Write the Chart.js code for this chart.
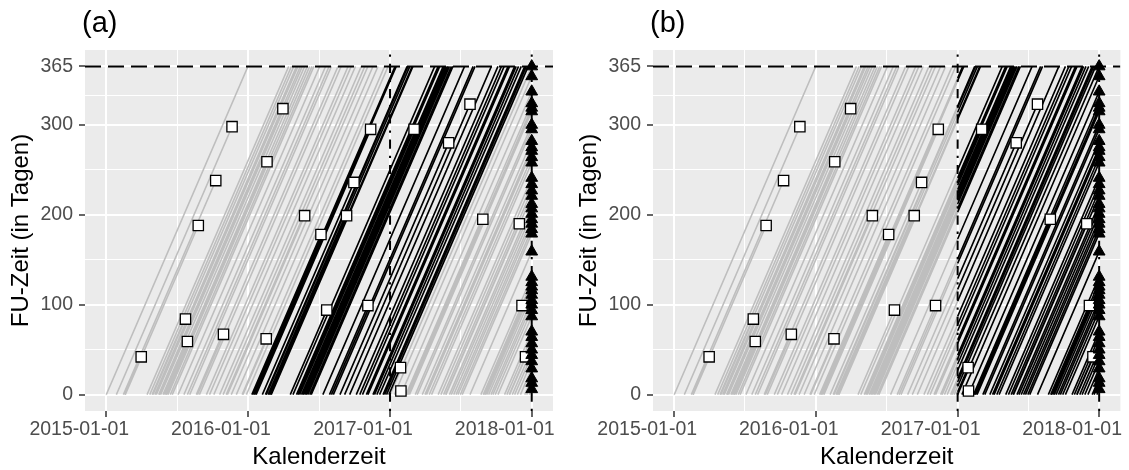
<!DOCTYPE html>
<html lang="de">
<head>
<meta charset="UTF-8">
<title>Kohorten- und Periodenansatz</title>
<style>
  body { margin: 0; background: #fff; }
  .wrap { position: relative; width: 1129px; height: 470px; overflow: hidden; }
  .wrap canvas { position: absolute; top: 0; }
  #chartA { left: 0; }
  #chartB { left: 568px; }
</style>
<script src="https://cdn.jsdelivr.net/npm/chart.js"></script>
</head>
<body>
<div class="wrap">
  <canvas id="chartA" width="567" height="470"></canvas>
  <canvas id="chartB" width="561" height="470"></canvas>
</div>
<script>
// Achsen
const xTickDates = ['2015-01-01', '2016-01-01', '2017-01-01', '2018-01-01'];
const yTicks = [0, 100, 200, 300, 365];

// Eintritt jeweils in Tagen seit 2015-01-01
// volle 365 Tage beobachtet (kein Symbol)
const fullEntry = [0, 105, 112, 118, 125, 129, 135, 140, 146, 153, 159, 165, 170, 185,
  200, 209, 215, 232, 240, 258, 266, 277, 292, 301, 309, 322, 335, 352, 361,
  379, 382, 410, 412, 417, 423, 425, 481, 490, 494, 503, 507, 511, 515, 519, 524, 528, 558,
  580, 585, 627, 644, 653, 660, 670, 674, 687, 691, 697, 704, 713, 717, 722];

// Ereignis (Quadrat)
const eventEntry = [26, 44, 48, 49, 120, 137, 150, 155, 235, 312, 350,
  375, 386, 402, 420, 474, 498, 575, 602, 614, 728,
  755, 775, 874, 972, 1038];
const eventFU = [298, 238, 42, 188, 84, 318, 59, 259, 67, 199, 62,
  178, 295, 236, 199, 94, 295, 99, 280, 323, 30,
  4, 195, 190, 99, 42];

// zensiert am Studienende (Dreieck)
const censEntry = [731, 742, 759, 772, 777, 781, 796, 801, 814, 821, 825, 832, 838, 855, 862, 869,
  875, 884, 889, 895, 901, 906, 912, 917, 937, 965, 971, 976, 980, 985, 991, 996, 1002, 1009,
  1026, 1032, 1039, 1046, 1052, 1059, 1067, 1078, 1083, 1090];
const censFU = [365, 354, 337, 324, 319, 315, 300, 295, 282, 275, 271, 264, 258, 241, 234, 227,
  221, 212, 207, 201, 195, 190, 184, 179, 159, 131, 125, 120, 116, 111, 105, 100, 94, 87,
  70, 64, 57, 50, 44, 37, 29, 18, 13, 6];

const fuMax = 365;
const cohortFrom = '2016-01-01';
const cohortTo = '2016-12-31';
const periodFrom = '2017-01-01';
const studyEnd = '2018-01-01';

const origin = Date.UTC(2015, 0, 1);
function day(s) {
    const [y, m, d] = s.split('-').map(Number);
    return Math.round((Date.UTC(y, m - 1, d) - origin) / 864e5);
}

const subjects = [];
fullEntry.forEach(s => subjects.push({ s, fu: fuMax }));
eventEntry.forEach((s, i) => subjects.push({ s, fu: eventFU[i] }));
censEntry.forEach((s, i) => subjects.push({ s, fu: censFU[i] }));

function addSeg(arr, x0, y0, x1, y1) {
    arr.push({ x: x0, y: y0 }, { x: x1, y: y1 }, { x: x1, y: null });
}

// (a): Kohorte 2016 schwarz
function cohortSegments() {
    const grey = [], black = [];
    const c0 = day(cohortFrom), c1 = day(cohortTo);
    subjects.forEach(p => {
        addSeg(p.s >= c0 && p.s <= c1 ? black : grey, p.s, 0, p.s + p.fu, p.fu);
    });
    return { grey, black };
}

// (b): alles ab 2017-01-01 schwarz
function periodSegments() {
    const grey = [], black = [];
    const p0 = day(periodFrom);
    subjects.forEach(p => {
        const end = p.s + p.fu;
        if (end <= p0) addSeg(grey, p.s, 0, end, p.fu);
        else if (p.s >= p0) addSeg(black, p.s, 0, end, p.fu);
        else {
            const cut = p0 - p.s;
            addSeg(grey, p.s, 0, p0, cut);
            addSeg(black, p0, cut, end, p.fu);
        }
    });
    return { grey, black };
}

const squares = eventEntry.map((s, i) => ({ x: s + eventFU[i], y: eventFU[i] }));
const triangles = censEntry.map((s, i) => ({ x: s + censFU[i], y: censFU[i] }));

const xMajor = xTickDates.map(day);
const xMinor = xMajor.slice(1).map((v, i) => (v + xMajor[i]) / 2);
const yMinor = yTicks.slice(1).map((v, i) => (v + yTicks[i]) / 2);
const xSpan = xMajor[xMajor.length - 1] - xMajor[0];

const FONT = '"Liberation Sans", Arial, sans-serif';
Chart.defaults.font.family = FONT;

const panelBg = {
    id: 'panelBg',
    beforeDraw(chart) {
        const { ctx, chartArea: a } = chart;
        ctx.save();
        ctx.fillStyle = '#EBEBEB';
        ctx.fillRect(a.left, a.top, a.width, a.height);
        ctx.restore();
    }
};

const refLines = {
    id: 'refLines',
    afterDatasetDraw(chart, args) {
        if (args.index !== 2) return;
        const { ctx, chartArea: a, scales: { x, y } } = chart;
        ctx.save();
        ctx.beginPath();
        ctx.rect(a.left, a.top, a.width, a.height);
        ctx.clip();
        ctx.strokeStyle = '#000';
        ctx.lineWidth = 2;
        ctx.setLineDash([16, 7]);
        const py = y.getPixelForValue(fuMax);
        ctx.beginPath();
        ctx.moveTo(a.left, py);
        ctx.lineTo(a.right, py);
        ctx.stroke();
        ctx.setLineDash([2.3, 6.9, 9.2, 6.9]);
        [periodFrom, studyEnd].forEach(d => {
            const px = x.getPixelForValue(day(d));
            ctx.beginPath();
            ctx.moveTo(px, a.bottom);
            ctx.lineTo(px, a.top);
            ctx.stroke();
        });
        ctx.restore();
    }
};

const panelTitle = {
    id: 'panelTitle',
    afterDraw(chart, args, opts) {
        const { ctx, chartArea: a } = chart;
        ctx.save();
        ctx.font = '29px ' + FONT;
        ctx.fillStyle = '#000';
        ctx.textBaseline = 'alphabetic';
        ctx.fillText(opts.text, a.left - 3, 32);
        ctx.restore();
    }
};

function makePanel(id, label, segs, padRight) {
    new Chart(document.getElementById(id), {
        type: 'scatter',
        data: {
            datasets: [
                { data: triangles, pointStyle: 'triangle', pointRadius: 6.8,
                  backgroundColor: '#000', borderColor: '#000', borderWidth: 1 },
                { data: squares, pointStyle: 'rect', pointRadius: 7.3,
                  backgroundColor: '#fff', borderColor: '#000', borderWidth: 1.3 },
                { data: segs.black, showLine: true, pointRadius: 0, borderColor: '#000',
                  borderWidth: 1.6, spanGaps: false },
                { data: segs.grey, showLine: true, pointRadius: 0, borderColor: '#BEBEBE',
                  borderWidth: 1.5, spanGaps: false }
            ]
        },
        options: {
            responsive: false,
            animation: false,
            events: [],
            layout: { padding: { left: 0, right: padRight, top: 50, bottom: 0 } },
            plugins: {
                legend: { display: false },
                tooltip: { enabled: false },
                panelTitle: { text: label }
            },
            scales: {
                x: {
                    type: 'linear',
                    min: xMajor[0] - 0.05 * xSpan,
                    max: xMajor[xMajor.length - 1] + 0.05 * xSpan,
                    afterBuildTicks: s => { s.ticks = xMajor.concat(xMinor).sort((p, q) => p - q).map(v => ({ value: v })); },
                    afterFit: s => { s.height = 59; s.paddingLeft = 0; s.paddingRight = 0; },
                    border: { display: false },
                    grid: {
                        color: '#fff',
                        lineWidth: c => xMajor.includes(c.tick.value) ? 2 : 1,
                        tickColor: c => xMajor.includes(c.tick.value) ? '#333333' : 'rgba(0,0,0,0)',
                        tickWidth: 1.5,
                        tickLength: 6
                    },
                    ticks: {
                        autoSkip: false, maxRotation: 0, minRotation: 0,
                        padding: 1, labelOffset: -27,
                        color: '#4D4D4D', font: { size: 19.5 },
                        callback: v => { const i = xMajor.indexOf(v); return i >= 0 ? xTickDates[i] : ''; }
                    },
                    title: { display: true, text: 'Kalenderzeit', color: '#000',
                             font: { size: 24, lineHeight: 1 }, padding: { top: 0, bottom: 1 } }
                },
                y: {
                    type: 'linear',
                    min: -0.05 * fuMax,
                    max: fuMax * 1.05,
                    afterBuildTicks: s => { s.ticks = yTicks.concat(yMinor).sort((p, q) => p - q).map(v => ({ value: v })); },
                    afterFit: s => { s.width = 85; s.paddingTop = 0; s.paddingBottom = 0; },
                    border: { display: false },
                    grid: {
                        color: '#fff',
                        lineWidth: c => yTicks.includes(c.tick.value) ? 2 : 1,
                        tickColor: c => yTicks.includes(c.tick.value) ? '#333333' : 'rgba(0,0,0,0)',
                        tickWidth: 1.5,
                        tickLength: 6
                    },
                    ticks: {
                        autoSkip: false, padding: 6,
                        color: '#4D4D4D', font: { size: 19.5 },
                        callback: v => yTicks.includes(v) ? String(v) : ''
                    },
                    title: { display: true, text: 'FU-Zeit (in Tagen)', color: '#000',
                             font: { size: 24, lineHeight: 1 }, padding: { top: 9, bottom: 0 } }
                }
            }
        },
        plugins: [panelBg, refLines, panelTitle]
    });
}

makePanel('chartA', '(a)', cohortSegments(), 14);
makePanel('chartB', '(b)', periodSegments(), 8);
</script>
</body>
</html>
